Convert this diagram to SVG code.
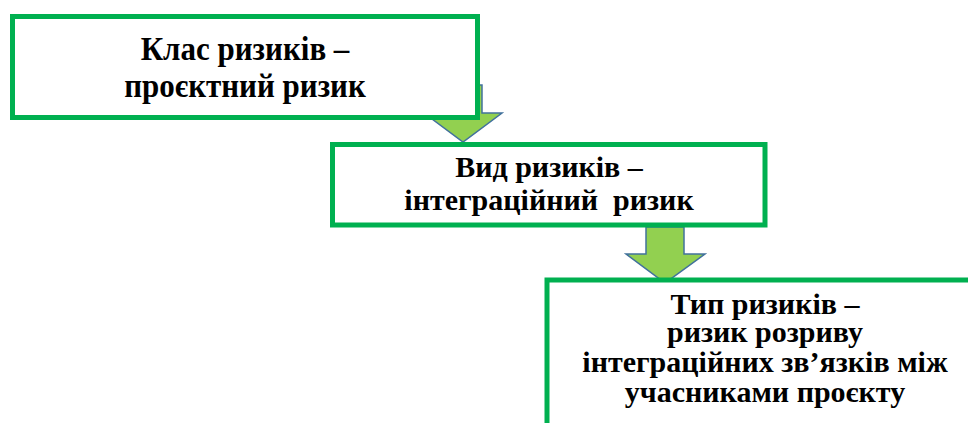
<svg xmlns="http://www.w3.org/2000/svg" width="968" height="423" viewBox="0 0 968 423">
<style>
.box{fill:#ffffff;stroke:#00B050;stroke-width:5}
.arr{fill:#92D050;stroke:#41719C;stroke-width:1.5;stroke-linejoin:miter}
text{font-family:"Liberation Serif","Times New Roman",serif;font-weight:bold;fill:#000;text-anchor:middle}
.t1{font-size:31px}
.t2{font-size:30px}
</style>
<rect width="968" height="423" fill="#ffffff"/>
<g id="connectors">
<path class="arr" d="M444,85 L482,85 L482,113 L502,113 L463,142 L424,113 L444,113 Z"/>
<path class="arr" d="M646,227 L684,227 L684,254 L705,254 L665,283 L626,254 L646,254 Z"/>
</g>
<g id="node-class">
<rect class="box" x="12.5" y="16.5" width="465" height="101"/>
<text class="t1" transform="translate(245,60) scale(1,1.12)">Клас ризиків –</text>
<text class="t1" transform="translate(245,96.5) scale(1,1.12)">проєктний ризик</text>
</g>
<g id="node-kind">
<rect class="box" x="332.5" y="144.5" width="432.5" height="80.5"/>
<text class="t2" x="549" y="176.5">Вид ризиків –</text>
<text class="t2" x="549" y="210" xml:space="preserve">інтеграційний  ризик</text>
</g>
<g id="node-type">
<rect class="box" x="547" y="280" width="460" height="200"/>
<text class="t2" x="765" y="314">Тип ризиків –</text>
<text class="t2" x="765" y="342">ризик розриву</text>
<text class="t2" x="765" y="372">інтеграційних зв’язків між</text>
<text class="t2" x="765" y="401.5">учасниками проєкту</text>
</g>
</svg>
